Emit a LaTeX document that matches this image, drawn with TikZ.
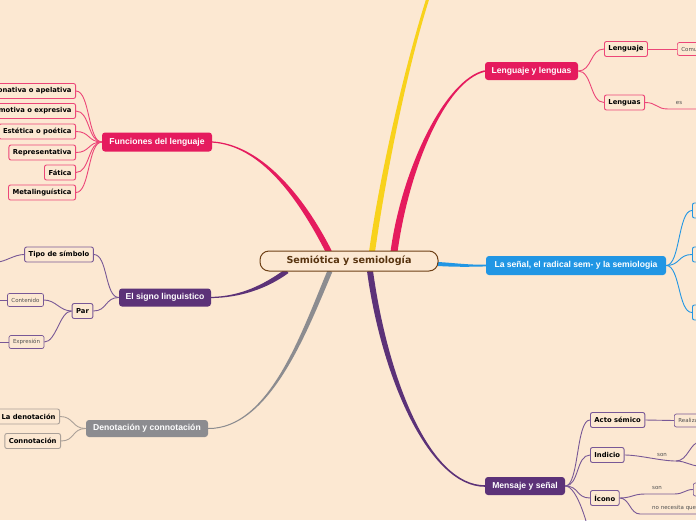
\documentclass[tikz,border=0pt]{standalone}
\usepackage{fontspec}
\setmainfont{DejaVu Sans}
\newfontfamily\arl{Liberation Sans}
\usetikzlibrary{calc}
\definecolor{bg}{RGB}{252,232,210}
\definecolor{mag}{RGB}{229,27,94}
\definecolor{magl}{RGB}{236,70,120}
\definecolor{pur}{RGB}{92,50,120}
\definecolor{purl}{RGB}{120,88,150}
\definecolor{gry}{RGB}{140,140,144}
\definecolor{gryl}{RGB}{170,160,152}
\definecolor{blu}{RGB}{33,150,228}
\definecolor{yel}{RGB}{248,210,28}
\definecolor{brn}{RGB}{110,64,22}
\definecolor{brntxt}{RGB}{88,52,16}
\definecolor{subtxt}{RGB}{80,80,80}

\newcommand{\taper}[7]{%
  \path ($(#2)!#6!90:(#3)$) coordinate (tsp) ($(#2)!#6!-90:(#3)$) coordinate (tsm)
        ($(#5)!#7!-90:(#4)$) coordinate (tep) ($(#5)!#7!90:(#4)$) coordinate (tem);
  \fill[#1] (tsp) .. controls ($(#3)+(tsp)-(#2)$) and ($(#4)+(tep)-(#5)$) .. (tep)
     -- (tem) .. controls ($(#4)+(tem)-(#5)$) and ($(#3)+(tsm)-(#2)$) .. (tsm) -- cycle;}

\tikzset{
  topic/.style={rounded corners=3pt, text=white, font=\arl\bfseries\fontsize{8.6}{10}\selectfont, inner sep=0pt, minimum height=18pt},
  kid/.style={draw, fill=bg, rounded corners=2pt, line width=0.9pt, text=black, font=\bfseries\fontsize{6.8}{8}\selectfont, inner xsep=4pt, inner ysep=0pt, minimum height=15pt},
  sub/.style={draw, fill=bg, rounded corners=2pt, line width=0.7pt, text=subtxt, font=\fontsize{5.5}{7}\selectfont, inner xsep=4pt, inner ysep=0pt, minimum height=13pt},
  lbl/.style={text=subtxt, font=\fontsize{5.5}{7}\selectfont, inner sep=1pt},
  con/.style={line width=0.9pt},
}

\begin{document}
\begin{tikzpicture}[x=1pt, y=-1pt]
\clip (0,0) rectangle (696,520);
\fill[bg] (0,0) rectangle (696,520);

% ---------- nodes ----------
\node[fill=mag, topic, minimum width=110pt, minimum height=19pt] (fl) at (157,142) {Funciones del lenguaje};
\node[fill=pur, topic, minimum width=92pt] (es) at (165,297.5) {El signo linguistico};
\node[fill=gry, topic, minimum width=122pt, minimum height=17pt] (dc) at (147,428.5) {Denotación y connotación};
\node[fill=mag, topic, minimum width=93pt] (ll) at (531.5,71) {Lenguaje y lenguas};
\node[fill=blu, topic, minimum width=180pt, minimum height=19pt] (ls) at (576,265.5) {La señal, el radical sem- y la semiologia};
\node[fill=pur, topic, minimum width=80pt] (ms) at (525,486) {Mensaje y señal};

% ---------- thick branches ----------
\coordinate (sy) at (372,252);
\coordinate (sll) at (394,252);
\coordinate (sfl) at (329,252);
\coordinate (ses) at (287,271);
\coordinate (sdc) at (330,271);
\coordinate (sls) at (438,264);
\coordinate (sms) at (370,271);
\coordinate (ey) at (428,-2);
\taper{yel}{sy}{382,180}{405,70}{ey}{3pt}{1.5pt}
\taper{mag}{sll}{405,170}{445,80}{ll.west}{3.5pt}{0.8pt}
\taper{mag}{sfl}{300,195}{260,145}{fl.east}{3pt}{0.6pt}
\taper{pur}{ses}{265,287}{240,297}{es.east}{2.5pt}{0.6pt}
\taper{gry}{sdc}{305,330}{270,429}{dc.east}{2.5pt}{0.5pt}
\taper{blu}{sls}{455,265}{470,266}{ls.west}{2pt}{0.9pt}
\taper{pur}{sms}{385,380}{430,486}{ms.west}{3pt}{0.8pt}

\node[draw=brn, fill=bg, line width=1pt, rounded corners=9pt, minimum width=178pt, minimum height=20pt, inner sep=0pt, text=brntxt, font=\bfseries\fontsize{9.6}{11}\selectfont] (c) at (349,261) {Semiótica y semiología};

% ---------- Funciones del lenguaje ----------
\node[kid, draw=magl, anchor=east] (c1) at (76,91) {Conativa o apelativa};
\node[kid, draw=magl, anchor=east] (c2) at (76,111) {Emotiva o expresiva};
\node[kid, draw=magl, anchor=east] (c3) at (76,131.5) {Estética o poética};
\node[kid, draw=magl, anchor=east] (c4) at (76,152.5) {Representativa};
\node[kid, draw=magl, anchor=east] (c5) at (76,172.5) {Fática};
\node[kid, draw=magl, anchor=east] (c6) at (76,192.5) {Metalinguística};
\foreach \k in {c1,c2,c3,c4,c5,c6}
  \draw[magl, con] (fl.west) .. controls +(-14,0) and +(14,0) .. (\k.east);

% ---------- El signo linguistico ----------
\node[kid, draw=purl] (tipo) at (59,254.5) {Tipo de símbolo};
\node[kid, draw=purl] (par) at (82.5,311) {Par};
\node[sub, draw=purl] (cont) at (25.5,300) {Contenido};
\node[sub, draw=purl] (expr) at (26.5,342) {Expresión};
\coordinate (tipoL) at (-3,262);
\coordinate (contL) at (-3,300);
\coordinate (exprL) at (-3,342);
\draw[purl, con] (es.west) .. controls +(-14,0) and +(14,0) .. (tipo.east);
\draw[purl, con] (es.west) .. controls +(-14,0) and +(14,0) .. (par.east);
\draw[purl, con] (par.west) .. controls +(-12,0) and +(12,0) .. (cont.east);
\draw[purl, con] (par.west) .. controls +(-12,0) and +(12,0) .. (expr.east);
\draw[purl, con] (tipo.west) .. controls +(-10,0) and +(8,0) .. (tipoL);
\draw[purl, con] (cont.west) -- (contL);
\draw[purl, con] (expr.west) -- (exprL);

% ---------- Denotación y connotación ----------
\node[kid, draw=gryl, anchor=east] (den) at (60,416.5) {La denotación};
\node[kid, draw=gryl, anchor=east] (con) at (61,441) {Connotación};
\draw[gryl, con] (dc.west) .. controls +(-14,0) and +(14,0) .. (den.east);
\draw[gryl, con] (dc.west) .. controls +(-14,0) and +(14,0) .. (con.east);

% ---------- Lenguaje y lenguas ----------
\node[kid, draw=magl, anchor=west] (lj) at (604,49) {Lenguaje};
\node[kid, draw=magl, anchor=west] (lng) at (604,102.5) {Lenguas};
\node[sub, draw=magl, anchor=west] (comu) at (677,49) {Comunicación};
\coordinate (lngR) at (700,109);
\coordinate (lngJ) at (668,109);
\draw[magl, con] (ll.east) .. controls +(14,0) and +(-14,0) .. (lj.west);
\draw[magl, con] (ll.east) .. controls +(14,0) and +(-14,0) .. (lng.west);
\draw[magl, con] (lj.east) -- (comu.west);
\draw[magl, con] (lng.east) .. controls +(12,0) and +(-12,0) .. (lngJ) -- (lngR);
\node[lbl] (les) at (679,103) {es};

% ---------- La señal ----------
\node[kid, draw=blu, anchor=west, minimum width=40pt] (b1) at (692,210.5) {};
\node[kid, draw=blu, anchor=west, minimum width=40pt] (b2) at (692,254.5) {};
\node[kid, draw=blu, anchor=west, minimum width=40pt] (b3) at (692,312.5) {};
\foreach \k in {b1,b2,b3}
  \draw[blu, con] (ls.east) .. controls +(14,0) and +(-14,0) .. (\k.west);

% ---------- Mensaje y señal ----------
\node[kid, draw=purl, anchor=west] (acto) at (590,420) {Acto sémico};
\node[kid, draw=purl, anchor=west] (ind) at (590,455) {Indicio};
\node[kid, draw=purl, anchor=west] (ico) at (590,498) {Ícono};
\node[sub, draw=purl, anchor=west] (real) at (674,420.5) {Realización};
\node[sub, draw=purl, anchor=west, minimum width=30pt] (icb) at (693,489.5) {};
\coordinate (ms4) at (592,545);
\coordinate (indJ) at (676,461);
\coordinate (ind1) at (700,442);
\coordinate (ind2) at (700,466);
\coordinate (icJ) at (645,494);
\coordinate (icK) at (674,494);
\coordinate (icN) at (640,514);
\coordinate (icR) at (700,514);
\draw[purl, con] (ms.east) .. controls +(14,0) and +(-14,0) .. (acto.west);
\draw[purl, con] (ms.east) .. controls +(14,0) and +(-14,0) .. (ind.west);
\draw[purl, con] (ms.east) .. controls +(14,0) and +(-14,0) .. (ico.west);
\draw[purl, con] (ms.east) .. controls +(12,0) and +(-4,-20) .. (ms4);
\draw[purl, con] (acto.east) -- (real.west);
\draw[purl, con] (ind.east) .. controls +(15,0) and +(-15,0) .. (indJ);
\draw[purl, con] (indJ) .. controls +(12,0) and +(-10,0) .. (ind1);
\draw[purl, con] (indJ) .. controls +(10,0) and +(-10,0) .. (ind2);
\draw[purl, con] (ico.east) .. controls +(12,0) and +(-12,0) .. (icJ) -- (icK) .. controls +(10,0) and +(-8,0) .. (icb.west);
\draw[purl, con] (ico.east) .. controls +(10,0) and +(-10,0) .. (icN) -- (icR);
\node[lbl] (ison) at (662,455) {son};
\node[lbl] (cson) at (657,488) {son};
\node[lbl, anchor=west] (nonec) at (651,507.5) {no necesita que};
\end{tikzpicture}
\end{document}
